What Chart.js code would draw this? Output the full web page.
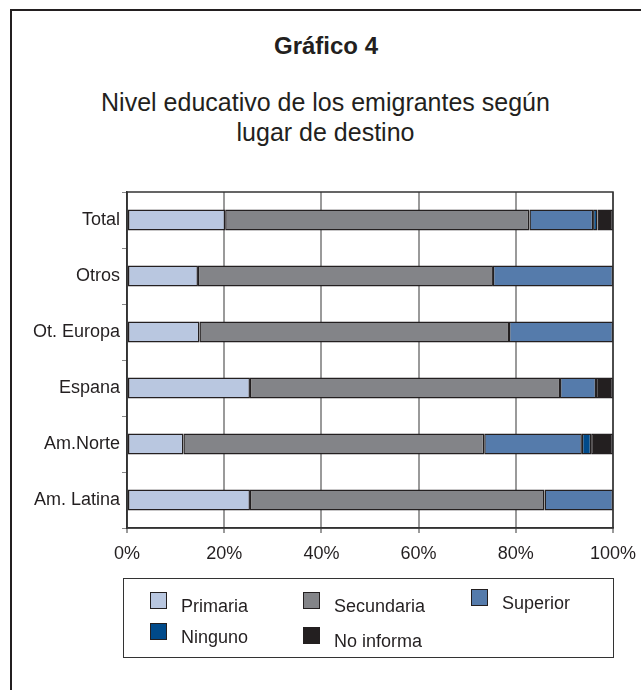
<!DOCTYPE html>
<html>
<head>
<meta charset="utf-8">
<script src="https://cdn.jsdelivr.net/npm/chart.js@4"></script>
<style>
  body { margin: 0; background: #fff; font-family: "Liberation Sans", Arial, sans-serif; color: #231f20; }
  #wrap { position: relative; width: 641px; height: 690px; overflow: hidden; }
  #frame { position: absolute; left: 10px; top: 9px; width: 800px; height: 800px; border-left: 2px solid #231f20; border-top: 2px solid #231f20; }
  #title { position: absolute; left: 0; width: 652px; top: 32px; text-align: center; font-weight: bold; font-size: 24px; }
  #subtitle { position: absolute; left: 0; width: 651px; top: 87px; text-align: center; font-size: 25px; line-height: 30px; }
  canvas { position: absolute; left: 0; top: 0; }
  #legend { position: absolute; left: 123px; top: 578px; width: 489px; height: 78px; border: 1px solid #333; }
  .item { position: absolute; font-size: 18px; line-height: 18px; }
  .item span.box { position: absolute; left: 0; top: 0; width: 15px; height: 15px; border: 1px solid #231f20; }
  .item span.lbl { position: absolute; left: 31px; top: 5px; white-space: nowrap; }
</style>
</head>
<body>
<div id="wrap">
  <div id="frame"></div>
  <div id="title">Gráfico 4</div>
  <div id="subtitle">Nivel educativo de los emigrantes según<br>lugar de destino</div>
  <canvas id="chart" width="641" height="690"></canvas>
  <div id="legend"></div>
</div>
<script>
const destinos = ["Total", "Otros", "Ot. Europa", "Espana", "Am.Norte", "Am. Latina"];
const primaria   = [20.2, 14.6, 14.9, 25.3, 11.6, 25.3];
const secundaria = [62.6, 60.7, 63.7, 63.8, 61.9, 60.6];
const superior   = [13.1, 24.7, 21.4, 7.4, 20.1, 14.1];
const ninguno    = [0.9, 0, 0, 0, 1.9, 0];
const noInforma  = [3.2, 0, 0, 3.5, 4.5, 0];
const xTicks = [0, 20, 40, 60, 80, 100];

const series = [
    { label: "Primaria", data: primaria, color: "#b9c7e0" },
    { label: "Secundaria", data: secundaria, color: "#838488" },
    { label: "Superior", data: superior, color: "#557bab" },
    { label: "Ninguno", data: ninguno, color: "#004a8a" },
    { label: "No informa", data: noInforma, color: "#231f20" }
];

// box around the plot area
const frameArea = {
    id: "frameArea",
    afterDraw(chart) {
        const a = chart.chartArea;
        const ctx = chart.ctx;
        ctx.save();
        ctx.strokeStyle = "#333";
        ctx.lineWidth = 1.5;
        ctx.strokeRect(a.left, a.top, a.right - a.left, a.bottom - a.top);
        ctx.restore();
    }
};

const ctx = document.getElementById("chart").getContext("2d");
new Chart(ctx, {
    type: "bar",
    data: {
        labels: destinos,
        datasets: series.map(s => ({
            label: s.label,
            data: s.data,
            backgroundColor: s.color,
            borderColor: "#231f20",
            borderWidth: 1.5,
            borderSkipped: false,
            categoryPercentage: 1,
            barPercentage: 0.375
        }))
    },
    options: {
        indexAxis: "y",
        responsive: false,
        animation: false,
        layout: { padding: { top: 192, right: 28, left: 0, bottom: 0 } },
        plugins: { legend: { display: false }, tooltip: { enabled: false } },
        scales: {
            x: {
                stacked: true,
                min: 0,
                max: 100,
                afterBuildTicks(scale) { scale.ticks = xTicks.map(v => ({ value: v })); },
                afterFit(scale) {
                    scale.height = 162;
                    scale.paddingLeft = 0;
                    scale.paddingRight = 0;
                },
                grid: { color: "#9a9a9a", lineWidth: 2, tickLength: 5 },
                border: { color: "#333", width: 1.5 },
                ticks: {
                    padding: 10,
                    color: "#231f20",
                    font: { family: "Liberation Sans", size: 18 },
                    callback: v => v + "%"
                }
            },
            y: {
                stacked: true,
                afterFit(scale) { scale.width = 127; },
                grid: { offset: true, drawOnChartArea: false, tickLength: 5, color: "#888" },
                border: { color: "#333", width: 1.5 },
                ticks: {
                    padding: 2,
                    color: "#231f20",
                    font: { family: "Liberation Sans", size: 18 }
                }
            }
        }
    },
    plugins: [frameArea]
});

// legend laid out like the reference
const spots = [[26, 13], [179, 13], [347, 10], [26, 44], [179, 48]];
const legend = document.getElementById("legend");
series.forEach((s, i) => {
    const el = document.createElement("div");
    el.className = "item";
    el.style.left = spots[i][0] + "px";
    el.style.top = spots[i][1] + "px";
    el.innerHTML = '<span class="box" style="background:' + s.color + '"></span><span class="lbl">' + s.label + '</span>';
    legend.appendChild(el);
});
</script>
</body>
</html>
